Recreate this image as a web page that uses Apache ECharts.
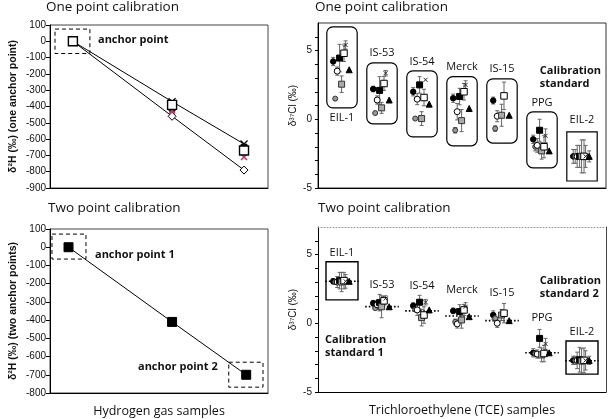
<!DOCTYPE html>
<html><head><meta charset="utf-8">
<script src="https://cdn.jsdelivr.net/npm/echarts@6/dist/echarts.min.js"></script>
<style>html,body{margin:0;padding:0;background:#fff}#c{width:609px;height:419px}</style>
</head><body><div id="c"></div>
<script>
// ================= DATA =================
// Hydrogen gas samples (left panels)
const hSampleXTop = [1.05, 5.6, 8.9];
const hSampleXBot = [0.85, 5.6, 9.0];
const hCross   = [0, -370, -630];
const hSquare  = [0, -390, -670];
const hDark    = [0, -410, -650];
const hPink    = [0, -425, -710];
const hDiamond = [0, -460, -790];
const hTwoPoint = [0, -410, -700];
const hAnchorBoxTop = [[0.23, 1.83, 75, -75]];
const hAnchorBoxBot = [[0.09, 1.65, 72, -65], [8.2, 9.77, -631, -768]];

// TCE samples (right panels)
const tceGroups = ['EIL-1', 'IS-53', 'IS-54', 'Merck', 'IS-15', 'PPG', 'EIL-2'];
// one point calibration
const oneFilledCircle = [4.2, 2.2, 2.0, 1.53, 1.36, -1.46, -2.7];
const oneGreyCircle   = [1.5, 0.45, 0.05, -0.8, -0.68, -2.0, -2.7];
const oneOpenCircle   = [3.5, 1.4, 1.46, 0.55, 0.22, -1.9, -2.7];
const oneFilledSquare = [4.45, 2.1, 2.5, 1.65, null, -0.8, -2.7];
const oneGreySquare   = [2.55, 0.83, 0.05, -0.1, 0.29, -2.3, -2.7];
const oneOpenSquare   = [4.8, 2.6, 1.58, 2.0, 1.7, -2.0, -2.7];
const oneCross        = [5.4, 3.35, 2.87, 2.5, null, -1.2, -2.7];
const oneTriangle     = [3.6, 1.4, 1.1, 0.78, 0.29, -2.3, -2.7];
const oneErrFilledCircle = [0.3, 0.2, 0.3, 0.3, 0.25, 0.3, 0.5];
const oneErrGreyCircle   = [0, 0, 0, 0.2, 0.2, 0.3, 0.5];
const oneErrOpenCircle   = [0.3, 0.3, 0.4, 0.6, 0.4, 0.5, 0.8];
const oneErrFilledSquare = [1.0, 1.0, 0.6, 0.6, null, 0.8, 0.8];
const oneErrGreySquare   = [0.6, 0.4, 0.5, 0.8, 0.8, 0.6, 1.2];
const oneErrOpenSquare   = [0.6, 0.5, 0.6, 0.6, 1.0, 0.8, 1.2];
const oneErrCross        = [0.3, 0.2, 0, 0.3, null, 0.5, 0.8];
const oneErrTriangle     = [0, 0, 0, 0, 0, 0, 0.4];
const oneBoxY = [[6.72, 0.83], [4.1, -0.33], [3.52, -1.28], [3.1, -1.93], [2.94, -1.73], [0.54, -3.53], [-0.92, -4.49]];
const oneLabelY = [0.1, 4.85, 4.2, 3.8, 3.7, 1.16, -0.07];

// two point calibration
const twoFilledCircle = [3.05, 1.46, 1.28, 0.9, 0.6, -2.15, -2.7];
const twoGreyCircle   = [3.0, 1.1, 1.0, 0.1, 0.36, -2.2, -2.7];
const twoOpenCircle   = [3.0, 1.34, 0.97, -0.05, 0.0, -2.24, -2.7];
const twoFilledSquare = [3.1, 1.5, 1.53, 0.85, null, -1.1, -2.65];
const twoGreySquare   = [3.0, 1.2, 0.41, 0.24, 0.6, -2.3, -2.75];
const twoOpenSquare   = [3.1, 1.63, 0.6, 0.97, 0.73, -2.2, -2.7];
const twoCross        = [3.05, 1.8, 1.53, 1.2, null, -1.5, -2.7];
const twoTriangle     = [3.05, 1.2, 0.97, 0.48, 0.19, -2.15, -2.7];
const twoErrFilledCircle = [0.2, 0.2, 0.2, 0.2, 0.3, 0.3, 0.3];
const twoErrGreyCircle   = [0, 0, 0, 0.2, 0, 0.2, 0.3];
const twoErrOpenCircle   = [0.4, 0.3, 0.4, 0.3, 0.3, 0.3, 0.6];
const twoErrFilledSquare = [0.6, 0.6, 0.5, 0.5, null, 0.65, 0.9];
const twoErrGreySquare   = [0.7, 0.8, 0.6, 0.6, 0.4, 0.5, 0.9];
const twoErrOpenSquare   = [0.6, 0.3, 0.6, 0.4, 0.7, 0.6, 0.9];
const twoErrCross        = [0.5, 0.2, 0.2, 0.3, null, 0.4, 0.7];
const twoErrTriangle     = [0, 0, 0, 0, 0, 0, 0.3];
const twoMean = [3.05, 1.21, 0.9, 0.53, 0.19, -2.15, -2.73];
const twoBoxY = [[4.47, 1.7], null, null, null, null, null, [-1.29, -3.7]];
const twoLabelY = [5.13, 2.8, 2.72, 2.43, 2.2, 0.39, -0.63];

// ================= STYLES / HELPERS =================
const FONT = '"Open Sans", "Noto Sans", sans-serif';
const TICKFONT = '"Liberation Sans", Arial, sans-serif';
const crossPath = 'path://M0,0L10,10M10,0L0,10';

const markers = [
  {key: 'FilledCircle', symbol: 'circle', size: 5.5, fill: '#000', stroke: '#000', off: -0.22},
  {key: 'GreyCircle', symbol: 'circle', size: 5, fill: '#999', stroke: '#333', off: -0.17},
  {key: 'OpenCircle', symbol: 'circle', size: 6, fill: '#fff', stroke: '#000', off: -0.12},
  {key: 'FilledSquare', symbol: 'rect', size: 6, fill: '#000', stroke: '#000', off: -0.06},
  {key: 'GreySquare', symbol: 'rect', size: 6, fill: '#aaa', stroke: '#333', off: -0.01},
  {key: 'OpenSquare', symbol: 'rect', size: 6.5, fill: '#fff', stroke: '#000', off: 0.05},
  {key: 'Cross', symbol: crossPath, size: 4, fill: 'none', stroke: '#222', off: 0.09},
  {key: 'Triangle', symbol: 'triangle', size: 6, fill: '#000', stroke: '#000', off: 0.18}
];
const oneSets = {
  FilledCircle: [oneFilledCircle, oneErrFilledCircle], GreyCircle: [oneGreyCircle, oneErrGreyCircle],
  OpenCircle: [oneOpenCircle, oneErrOpenCircle], FilledSquare: [oneFilledSquare, oneErrFilledSquare],
  GreySquare: [oneGreySquare, oneErrGreySquare], OpenSquare: [oneOpenSquare, oneErrOpenSquare],
  Cross: [oneCross, oneErrCross], Triangle: [oneTriangle, oneErrTriangle]
};
const twoSets = {
  FilledCircle: [twoFilledCircle, twoErrFilledCircle], GreyCircle: [twoGreyCircle, twoErrGreyCircle],
  OpenCircle: [twoOpenCircle, twoErrOpenCircle], FilledSquare: [twoFilledSquare, twoErrFilledSquare],
  GreySquare: [twoGreySquare, twoErrGreySquare], OpenSquare: [twoOpenSquare, twoErrOpenSquare],
  Cross: [twoCross, twoErrCross], Triangle: [twoTriangle, twoErrTriangle]
};

function errSeries(gi, vals, errs, off) {
  const data = [];
  vals.forEach((v, i) => { if (v != null && errs[i]) data.push([i + off, v - errs[i], v + errs[i]]); });
  return {
    type: 'custom', xAxisIndex: gi, yAxisIndex: gi, data, z: 2, silent: true,
    encode: {x: 0, y: [1, 2]},
    renderItem(params, api) {
      const x = api.value(0);
      const lo = api.coord([x, api.value(1)]), hi = api.coord([x, api.value(2)]);
      const w = 2, st = {stroke: '#666', lineWidth: 1};
      return {type: 'group', children: [
        {type: 'line', shape: {x1: lo[0], y1: lo[1], x2: hi[0], y2: hi[1]}, style: st},
        {type: 'line', shape: {x1: lo[0] - w, y1: lo[1], x2: lo[0] + w, y2: lo[1]}, style: st},
        {type: 'line', shape: {x1: hi[0] - w, y1: hi[1], x2: hi[0] + w, y2: hi[1]}, style: st}
      ]};
    }
  };
}
function markerSeries(gi, vals, m) {
  const data = [];
  vals.forEach((v, i) => { if (v != null) data.push([i + m.off, v]); });
  return {
    type: 'scatter', xAxisIndex: gi, yAxisIndex: gi, data, z: 3, silent: true,
    symbol: m.symbol, symbolSize: m.size,
    itemStyle: {color: m.fill, borderColor: m.stroke, borderWidth: 1, opacity: 1}
  };
}
function boxSeries(gi, boxes, st) {
  return {
    type: 'custom', xAxisIndex: gi, yAxisIndex: gi, data: boxes, z: 1, silent: true,
    renderItem(params, api) {
      const p0 = api.coord([api.value(0), api.value(2)]);
      const p1 = api.coord([api.value(1), api.value(3)]);
      const r = (st.rFor ? st.rFor(api.value(4)) : st.r) || 0;
      return {type: 'rect', shape: {x: p0[0], y: p0[1], width: p1[0] - p0[0], height: p1[1] - p0[1], r: r},
        style: {fill: 'none', stroke: '#000', lineWidth: st.lw || 1, lineDash: st.dash || null}};
    }
  };
}
function textSeries(gi, items, font) {
  return {
    type: 'custom', xAxisIndex: gi, yAxisIndex: gi, data: items.map(t => [t[0], t[1]]), z: 4, silent: true,
    renderItem(params, api) {
      const p = api.coord([api.value(0), api.value(1)]);
      const t = items[params.dataIndex][2];
      return {type: 'text', x: p[0], y: p[1], style: {text: t, font: font, fill: '#111',
        align: 'center', verticalAlign: 'middle', textAlign: 'center', textVerticalAlign: 'middle'}};
    }
  };
}
function meanSeries(gi, means) {
  return {
    type: 'custom', xAxisIndex: gi, yAxisIndex: gi, data: means.map((m, i) => [i, m]), z: 2, silent: true,
    renderItem(params, api) {
      const x = api.value(0), y = api.value(1);
      const a = api.coord([x - 0.42, y]), b = api.coord([x + 0.42, y]);
      return {type: 'line', shape: {x1: a[0], y1: a[1], x2: b[0], y2: b[1]},
        style: {stroke: '#000', lineWidth: 1.6, lineDash: [1.6, 2]}};
    }
  };
}

// ================= AXES =================
const grids = [
  {left: 50, top: 25, width: 218, height: 163, show: true, borderColor: '#444', borderWidth: 1},
  {left: 50, top: 229, width: 218, height: 164, show: true, borderColor: '#444', borderWidth: 1},
  {left: 318, top: 23, width: 288, height: 165, show: true, borderColor: '#333', borderWidth: 1},
  {left: 318, top: 227, width: 288, height: 165, show: false}
];
const blackLine = {show: true, onZero: false, lineStyle: {color: '#000', width: 1}};
const tickLbl = {fontFamily: TICKFONT, fontSize: 10, color: '#111', margin: 4};
const xAxes = [
  {gridIndex: 0, type: 'value', min: 0, max: 10, axisLine: blackLine, axisTick: {show: false}, axisLabel: {show: false}, splitLine: {show: false}},
  {gridIndex: 1, type: 'value', min: 0, max: 10, axisLine: blackLine, axisTick: {show: false}, axisLabel: {show: false}, splitLine: {show: false},
    name: 'Hydrogen gas samples', nameLocation: 'middle', nameGap: 12,
    nameTextStyle: {fontFamily: FONT, fontSize: 12.5, color: '#111', verticalAlign: 'top'}},
  {gridIndex: 2, type: 'value', min: -0.6, max: 6.6, axisLine: blackLine, axisTick: {show: false}, axisLabel: {show: false}, splitLine: {show: false}},
  {gridIndex: 3, type: 'value', min: -0.6, max: 6.6, axisLine: blackLine, axisTick: {show: false}, axisLabel: {show: false}, splitLine: {show: false},
    name: 'Trichloroethylene (TCE) samples', nameLocation: 'middle', nameGap: 12,
    nameTextStyle: {fontFamily: FONT, fontSize: 12.5, color: '#111', verticalAlign: 'top'}},
  {gridIndex: 3, type: 'value', min: -0.6, max: 6.6, position: 'top',
    axisLine: {show: true, onZero: false, lineStyle: {color: '#999', width: 1, type: [1, 2]}}, axisTick: {show: false}, axisLabel: {show: false}, splitLine: {show: false}}
];
const rightFmt = v => (v === 5 || v === 0 || v === -5) ? String(v) : '';
const yAxes = [
  {gridIndex: 0, type: 'value', min: -900, max: 100, interval: 100, axisLine: blackLine,
    axisTick: {show: true, length: 4, lineStyle: {color: '#000'}}, axisLabel: tickLbl, splitLine: {show: false},
    name: 'δ²H (‰) (one anchor point)', nameLocation: 'middle', nameGap: 31,
    nameTextStyle: {fontFamily: TICKFONT, fontSize: 10.5, fontWeight: 'bold', color: '#111'}},
  {gridIndex: 1, type: 'value', min: -800, max: 100, interval: 100, axisLine: blackLine,
    axisTick: {show: true, length: 4, lineStyle: {color: '#000'}}, axisLabel: tickLbl, splitLine: {show: false},
    name: 'δ²H (‰) (two anchor points)', nameLocation: 'middle', nameGap: 31,
    nameTextStyle: {fontFamily: TICKFONT, fontSize: 10.5, fontWeight: 'bold', color: '#111'}},
  {gridIndex: 2, type: 'value', min: -5, max: 7, interval: 1, axisLine: blackLine,
    axisTick: {show: true, length: 3, lineStyle: {color: '#000'}}, axisLabel: Object.assign({formatter: rightFmt, showMaxLabel: false}, tickLbl, {margin: 6}), splitLine: {show: false},
    name: 'δ³⁷Cl (‰)', nameLocation: 'middle', nameGap: 20,
    nameTextStyle: {fontFamily: TICKFONT, fontSize: 10, color: '#111'}},
  {gridIndex: 3, type: 'value', min: -5, max: 7, interval: 1, axisLine: blackLine,
    axisTick: {show: true, length: 3, lineStyle: {color: '#000'}}, axisLabel: Object.assign({formatter: rightFmt, showMaxLabel: false}, tickLbl, {margin: 6}), splitLine: {show: false},
    name: 'δ³⁷Cl (‰)', nameLocation: 'middle', nameGap: 20,
    nameTextStyle: {fontFamily: TICKFONT, fontSize: 10, color: '#111'}},
  {gridIndex: 3, type: 'value', min: -5, max: 7, position: 'right',
    axisLine: {show: true, onZero: false, lineStyle: {color: '#444', width: 1}}, axisTick: {show: false}, axisLabel: {show: false}, splitLine: {show: false}}
];

// ================= SERIES =================
const series = [];
// Top-left
const zipX = (xs, ys) => xs.map((x, i) => [x, ys[i]]);
series.push({type: 'line', xAxisIndex: 0, yAxisIndex: 0, data: zipX(hSampleXTop, hCross), symbol: crossPath, symbolSize: 7,
  lineStyle: {color: '#000', width: 1}, itemStyle: {color: 'none', borderColor: '#000', borderWidth: 1.2}, z: 3, silent: true});
series.push({type: 'line', xAxisIndex: 0, yAxisIndex: 0, data: zipX(hSampleXTop, hDiamond), symbol: 'diamond', symbolSize: 8,
  lineStyle: {color: '#000', width: 1}, itemStyle: {color: '#fff', borderColor: '#000', borderWidth: 1}, z: 3, silent: true});
series.push({type: 'scatter', xAxisIndex: 0, yAxisIndex: 0, data: zipX(hSampleXTop, hDark), symbol: 'rect', symbolSize: 6,
  itemStyle: {color: '#222', borderColor: '#000', borderWidth: 1, opacity: 1}, z: 3, silent: true});
series.push({type: 'scatter', xAxisIndex: 0, yAxisIndex: 0, data: zipX(hSampleXTop, hPink), symbol: crossPath, symbolSize: 6,
  itemStyle: {color: 'none', borderColor: '#c0306a', borderWidth: 1.5, opacity: 1}, z: 3, silent: true});
series.push({type: 'scatter', xAxisIndex: 0, yAxisIndex: 0, data: zipX(hSampleXTop, hSquare), symbol: 'rect', symbolSize: 9,
  itemStyle: {color: '#fff', borderColor: '#000', borderWidth: 1.4, opacity: 1}, z: 4, silent: true});
series.push(boxSeries(0, hAnchorBoxTop, {lw: 1, dash: [4, 3]}));
// Bottom-left
series.push({type: 'line', xAxisIndex: 1, yAxisIndex: 1, data: zipX(hSampleXBot, hTwoPoint), symbol: 'rect', symbolSize: 9,
  lineStyle: {color: '#000', width: 1}, itemStyle: {color: '#000', borderColor: '#000'}, z: 3, silent: true});
series.push(boxSeries(1, hAnchorBoxBot, {lw: 1, dash: [4, 3]}));

// Top-right
markers.forEach(m => { const s = oneSets[m.key]; series.push(errSeries(2, s[0], s[1], m.off)); });
markers.forEach(m => { const s = oneSets[m.key]; series.push(markerSeries(2, s[0], m)); });
series.push(boxSeries(2, oneBoxY.map((b, i) => [i - 0.38, i + 0.38, b[0], b[1], i]), {lw: 1.2, rFor: i => i === 6 ? 0 : 6}));
series.push(textSeries(2, tceGroups.map((g, i) => [i, oneLabelY[i], g]), '11px ' + FONT));
// Bottom-right
series.push(meanSeries(3, twoMean));
markers.forEach(m => { const s = twoSets[m.key]; series.push(errSeries(3, s[0], s[1], m.off)); });
markers.forEach(m => { const s = twoSets[m.key]; series.push(markerSeries(3, s[0], m)); });
series.push(boxSeries(3, twoBoxY.map((b, i) => b ? [i - 0.4, i + 0.4, b[0], b[1], i] : null).filter(Boolean), {lw: 1.4, r: 0}));
series.push(textSeries(3, tceGroups.map((g, i) => [i, twoLabelY[i], g]), '11px ' + FONT));

// ================= TEXT =================
const titleStyle = {fontFamily: FONT, fontSize: 13.5, fontWeight: 'normal', color: '#111'};
const boldNote = {fontFamily: FONT, fontSize: 11, fontWeight: 'bold', color: '#111', lineHeight: 13};
const titles = [
  {text: 'One point calibration', left: 46, top: 0, textStyle: titleStyle},
  {text: 'One point calibration', left: 315, top: 0, textStyle: titleStyle},
  {text: 'Two point calibration', left: 48, top: 201, textStyle: titleStyle},
  {text: 'Two point calibration', left: 318, top: 201, textStyle: titleStyle},
  {text: 'anchor point', left: 98, top: 33, textStyle: boldNote},
  {text: 'anchor point 1', left: 95, top: 248, textStyle: boldNote},
  {text: 'anchor point 2', left: 138, top: 360, textStyle: boldNote},
  {text: 'Calibration\nstandard', right: 8, top: 64, textStyle: Object.assign({align: 'right'}, boldNote)},
  {text: 'Calibration\nstandard 2', right: 8, top: 274, textStyle: Object.assign({align: 'right'}, boldNote)},
  {text: 'Calibration\nstandard 1', left: 325, top: 333, textStyle: boldNote}
];

const chart = echarts.init(document.getElementById('c'), null, {renderer: 'canvas'});
chart.setOption({
  animation: false, backgroundColor: '#fff',
  title: titles.map(t => Object.assign({padding: 0}, t)),
  grid: grids, xAxis: xAxes, yAxis: yAxes, series
});
</script></body></html>
